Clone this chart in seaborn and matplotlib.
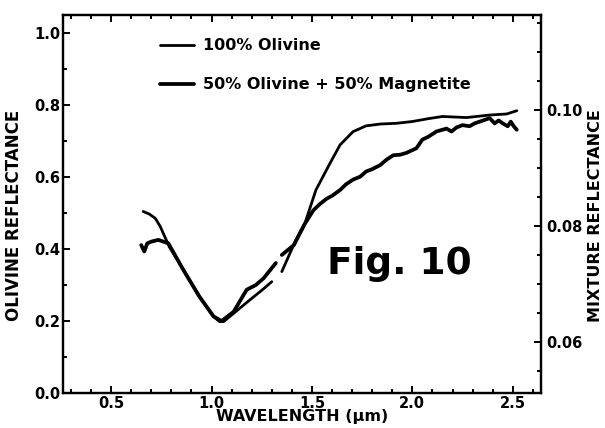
import numpy as np
import pandas as pd
import matplotlib
matplotlib.use("Agg")
import matplotlib.pyplot as plt
from matplotlib.lines import Line2D
from matplotlib.ticker import MultipleLocator
import seaborn as sns

# 100% olivine spectrum (left axis); NaN = break in the trace
olivine_wl = [0.66, 0.69, 0.72, 0.745, 0.76, 0.79, 0.86, 0.94, 1.01, 1.04, 1.06, 1.11,
              1.19, 1.25, 1.30, np.nan, 1.35, 1.42, 1.465, 1.52, 1.59, 1.64, 1.705,
              1.77, 1.84, 1.92, 2.00, 2.08, 2.15, 2.27, 2.385, 2.47, 2.52]
olivine_refl = [0.504, 0.497, 0.485, 0.462, 0.443, 0.406, 0.342, 0.267, 0.212, 0.198,
                0.198, 0.221, 0.258, 0.285, 0.309, np.nan, 0.337, 0.425, 0.471, 0.564,
                0.638, 0.689, 0.726, 0.742, 0.747, 0.749, 0.754, 0.762, 0.768, 0.765,
                0.772, 0.775, 0.784]

# 50% olivine + 50% magnetite (right axis)
mix_wl = [0.65, 0.665, 0.68, 0.70, 0.735, 0.76, 0.785, 0.86, 0.94, 1.01, 1.05, 1.11,
          1.175, 1.22, 1.26, 1.32, np.nan, 1.35, 1.41, 1.465, 1.507, 1.54, 1.573, 1.60,
          1.64, 1.67, 1.705, 1.74, 1.77, 1.80, 1.84, 1.87, 1.905, 1.94, 1.97, 2.02,
          2.05, 2.08, 2.12, 2.17, 2.195, 2.22, 2.25, 2.285, 2.31, 2.335, 2.36, 2.385,
          2.41, 2.43, 2.45, 2.475, 2.49, 2.505, 2.52]
mix_refl = [0.0767, 0.0756, 0.0770, 0.0773, 0.0776, 0.0773, 0.0770, 0.0724, 0.0678,
            0.0644, 0.0636, 0.0652, 0.0690, 0.0698, 0.0710, 0.0736, np.nan, 0.0750,
            0.0767, 0.0804, 0.0827, 0.0838, 0.0847, 0.0852, 0.0862, 0.0872, 0.0880,
            0.0885, 0.0894, 0.0898, 0.0905, 0.0914, 0.0922, 0.0923, 0.0926, 0.0934,
            0.0949, 0.0954, 0.0963, 0.0968, 0.0963, 0.0970, 0.0974, 0.0972, 0.0977,
            0.0980, 0.0983, 0.0986, 0.0977, 0.0982, 0.0977, 0.0972, 0.0980, 0.0972,
            0.0966]

labels = ["100% Olivine", "50% Olivine + 50% Magnetite"]


def to_frame(wl, refl):
    df = pd.DataFrame({"wl": wl, "refl": refl})
    # split the trace at the NaN gaps so each piece is drawn separately
    df["seg"] = df["wl"].isna().cumsum()
    return df.dropna()


sns.set_theme(style="ticks")
plt.rcParams["font.family"] = ["DejaVu Sans"]
plt.rcParams["font.weight"] = "bold"
plt.rcParams["axes.labelweight"] = "bold"
plt.rcParams["text.color"] = "black"
plt.rcParams["axes.labelcolor"] = "black"
plt.rcParams["xtick.color"] = "black"
plt.rcParams["ytick.color"] = "black"

fig, ax = plt.subplots(figsize=(6.05, 4.28), dpi=100)
fig.subplots_adjust(left=0.104, right=0.894, bottom=0.082, top=0.965)
ax2 = ax.twinx()

oliv = to_frame(olivine_wl, olivine_refl)
mix = to_frame(mix_wl, mix_refl)
sns.lineplot(data=oliv, x="wl", y="refl", units="seg", estimator=None,
             color="black", lw=2.0, ax=ax, legend=False)
sns.lineplot(data=mix, x="wl", y="refl", units="seg", estimator=None,
             color="black", lw=2.7, ax=ax2, legend=False)

ax.set_xlim(0.26, 2.64)
ax.set_ylim(0, 1.05)
ax2.set_ylim(0.0512, 0.1164)

ax.xaxis.set_major_locator(MultipleLocator(0.5))
ax.xaxis.set_minor_locator(MultipleLocator(0.1))
ax.yaxis.set_major_locator(MultipleLocator(0.2))
ax.yaxis.set_minor_locator(MultipleLocator(0.1))
ax2.yaxis.set_major_locator(MultipleLocator(0.02))
ax2.yaxis.set_minor_locator(MultipleLocator(0.005))

ax.tick_params(which="both", direction="in", top=True, right=False, width=1.4,
               labelsize=10.5, pad=2)
ax.tick_params(which="major", length=5)
ax.tick_params(which="minor", length=3)
ax2.tick_params(which="both", direction="in", width=1.4, labelsize=10.5, pad=4)
ax2.tick_params(which="major", length=5)
ax2.tick_params(which="minor", length=3)
ax.set_xticklabels([f"{t:.1f}" for t in ax.get_xticks()])
ax.set_yticklabels([f"{t:.1f}" for t in ax.get_yticks()])
ax2.set_yticklabels([f"{t:.2f}" for t in ax2.get_yticks()])

for a in (ax, ax2):
    for s in a.spines.values():
        s.set_linewidth(1.6)
        s.set_color("black")

ax.set_xlabel("WAVELENGTH (μm)", fontsize=11.5, labelpad=-1)
ax.set_ylabel("OLIVINE REFLECTANCE", fontsize=12)
ax2.set_ylabel("MIXTURE REFLECTANCE", fontsize=11.5)
ax.yaxis.set_label_coords(-0.084, 0.47)
ax2.yaxis.set_label_coords(1.098, 0.47)

ax.text(1.575, 0.33, "Fig. 10", fontsize=27, fontweight="bold", ha="left",
        va="baseline")

handles = [Line2D([], [], color="black", lw=2.0),
           Line2D([], [], color="black", lw=2.7)]
ax.legend(handles, labels, loc="upper left", bbox_to_anchor=(0.19, 0.955),
          frameon=False, fontsize=11.5, handlelength=2.1, handletextpad=0.6,
          labelspacing=1.5, borderaxespad=0)

fig.savefig("out.png", dpi=100)
